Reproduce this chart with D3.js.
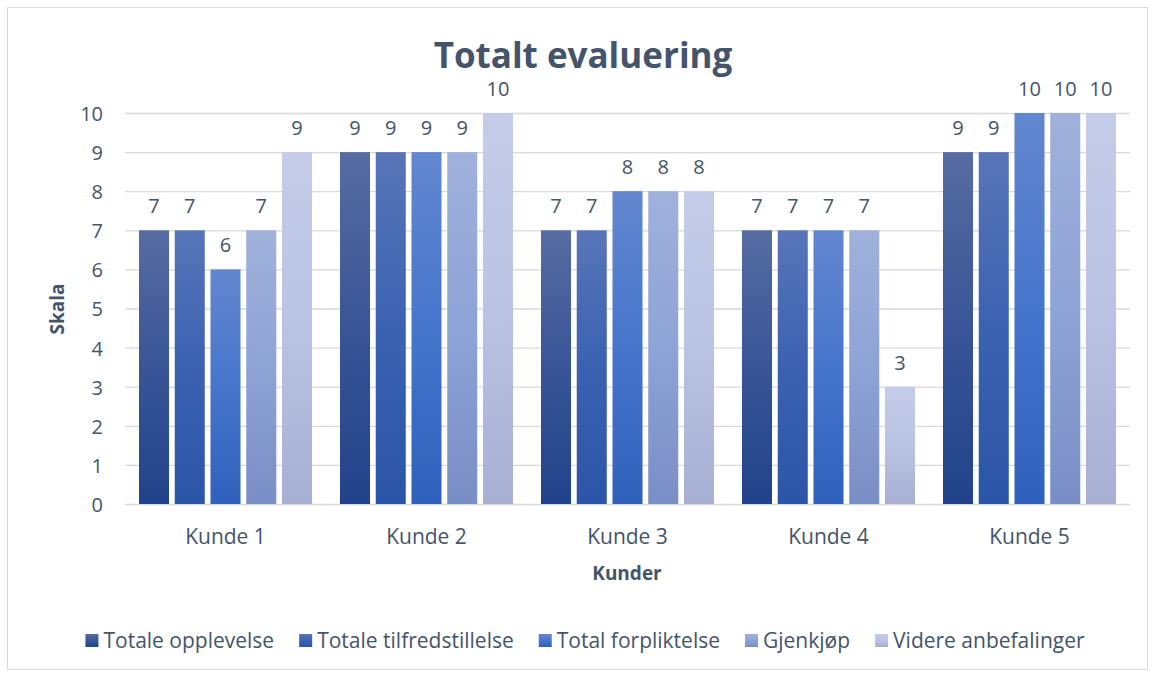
<!DOCTYPE html>
<html><head><meta charset="utf-8">
<script src="https://cdn.jsdelivr.net/npm/d3@7/dist/d3.min.js"></script>
<style>body{margin:0;background:#fff;}svg{display:block;font-family:"Open Sans",sans-serif;}</style>
</head><body>
<svg id="c" width="1154" height="677"></svg>
<script>
const categories = ["Kunde 1","Kunde 2","Kunde 3","Kunde 4","Kunde 5"];
const seriesNames = ["Totale opplevelse","Totale tilfredstillelse","Total forpliktelse","Gjenkjøp","Videre anbefalinger"];
const totaleOpplevelse = [7,9,7,7,9];
const totaleTilfredstillelse = [7,9,7,7,9];
const totalForpliktelse = [6,9,8,7,10];
const gjenkjop = [7,9,8,7,10];
const videreAnbefalinger = [9,10,8,3,10];
const yTicks = [0,1,2,3,4,5,6,7,8,9,10];
const seriesValues = [totaleOpplevelse,totaleTilfredstillelse,totalForpliktelse,gjenkjop,videreAnbefalinger];
// gradient stops per series: top, mid, bottom
const seriesColors = [
  ["#566ca2","#395597","#21428a"],
  ["#5875b8","#3b62b1","#2b55a7"],
  ["#6387cf","#4675cc","#2f61bc"],
  ["#a0b1db","#8ea3d6","#7a8ec6"],
  ["#c4cce9","#bac3e3","#a7b0d3"]
];

const svg = d3.select("#c");
const textColor = "#44546a";
const margin = {left:125, right:1130, top:113, bottom:504};

svg.append("rect").attr("x",7.5).attr("y",7.5).attr("width",1140).attr("height",662)
  .attr("fill","#fff").attr("stroke","#d9d9d9").attr("stroke-width",1);

const defs = svg.append("defs");
seriesColors.forEach((c,i)=>{
  const g = defs.append("linearGradient").attr("id","g"+i).attr("x1",0).attr("y1",0).attr("x2",0).attr("y2",1);
  g.append("stop").attr("offset","0%").attr("stop-color",c[0]);
  g.append("stop").attr("offset","50%").attr("stop-color",c[1]);
  g.append("stop").attr("offset","100%").attr("stop-color",c[2]);
});

const x0 = d3.scaleBand().domain(categories).range([margin.left, margin.right]).paddingInner(0).paddingOuter(0);
const groupPad = 14;
const x1 = d3.scaleBand().domain(d3.range(5)).range([groupPad, x0.bandwidth()-groupPad]).paddingInner(0.16).paddingOuter(0);
const y = d3.scaleLinear().domain([0,10]).range([margin.bottom, margin.top]);

// gridlines
svg.append("g").selectAll("line").data(yTicks).join("line")
  .attr("x1",margin.left).attr("x2",margin.right)
  .attr("y1",d=>y(d)+0.5).attr("y2",d=>y(d)+0.5)
  .attr("stroke","#d9d9d9").attr("stroke-width",1.3);

// y axis labels
const yAxis = d3.axisLeft(y).tickValues(yTicks).tickSize(0).tickPadding(0);
const ya = svg.append("g").attr("transform",`translate(${103},1)`).call(yAxis);
ya.select(".domain").remove();
ya.selectAll("text").attr("fill",textColor).style("font-size","20px").style("font-family","'Open Sans',sans-serif");

// x axis labels
const xAxis = d3.axisBottom(x0).tickSize(0).tickPadding(0);
const xa = svg.append("g").attr("transform",`translate(0,${522})`).call(xAxis);
xa.select(".domain").remove();
xa.selectAll("text").attr("fill",textColor).attr("dy",null).attr("y",22).style("font-size","21px").style("font-family","'Open Sans',sans-serif");

// bars
const data = [];
categories.forEach((c,ci)=>seriesValues.forEach((s,si)=>data.push({c,si,v:s[ci]})));
const bars = svg.append("g");
bars.selectAll("rect").data(data).join("rect")
  .attr("x",d=>x0(d.c)+x1(d.si)).attr("width",x1.bandwidth())
  .attr("y",d=>y(d.v)).attr("height",d=>y(0)-y(d.v))
  .attr("fill",d=>`url(#g${d.si})`);
bars.selectAll("text").data(data).join("text")
  .attr("x",d=>x0(d.c)+x1(d.si)+x1.bandwidth()/2).attr("y",d=>y(d.v)-17)
  .attr("text-anchor","middle").attr("fill",textColor).style("font-size","20px")
  .text(d=>d.v);

// title
svg.append("text").attr("x",583).attr("y",68).attr("text-anchor","middle")
  .attr("fill",textColor).style("font-size","35px").style("font-weight","bold").text("Totalt evaluering");
// axis titles
svg.append("text").attr("x",627).attr("y",580).attr("text-anchor","middle")
  .attr("fill",textColor).style("font-size","19px").style("font-weight","bold").text("Kunder");
svg.append("text").attr("transform","translate(64,309) rotate(-90)").attr("text-anchor","middle")
  .attr("fill",textColor).style("font-size","19px").style("font-weight","bold").text("Skala");

// legend
const leg = svg.append("g");
const items = leg.selectAll("g").data(seriesNames).join("g");
items.append("rect").attr("width",13).attr("height",13).attr("y",-14).attr("fill",(d,i)=>`url(#g${i})`);
items.append("text").attr("x",18).attr("y",0).attr("fill",textColor).style("font-size","21px").text(d=>d);
let xpos = 0; const gap = 25;
const widths = [];
items.each(function(){ widths.push(18 + this.querySelector("text").getComputedTextLength()); });
const total = d3.sum(widths) + gap*(widths.length-1);
let start = 585 - total/2;
items.attr("transform",(d,i)=>{ const t=`translate(${start + xpos},648)`; xpos += widths[i]+gap; return t; });
</script>
</body></html>
